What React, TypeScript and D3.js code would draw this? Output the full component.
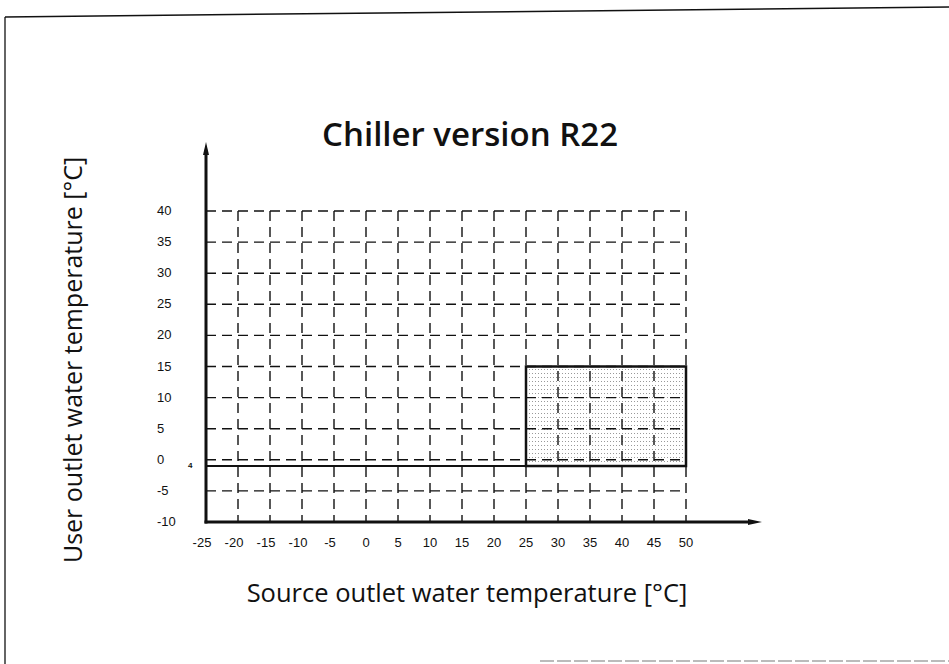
import * as d3 from "d3";

const xTicks = [-25, -20, -15, -10, -5, 0, 5, 10, 15, 20, 25, 30, 35, 40, 45, 50];
const yTicks = [-10, -5, 0, 5, 10, 15, 20, 25, 30, 35, 40];
// operating envelope: source 25..50, user -1..15
const envX = [25, 50];
const envY = [-1, 15];
const limitValue = -1;
const limitLabel = "4";

const W = 949;
const H = 664;

export default function App() {
  const x = d3.scaleLinear().domain([-25, 50]).range([206, 686]);
  const y = d3.scaleLinear().domain([-10, 40]).range([522, 211]);
  const font = "'Open Sans', 'Noto Sans', sans-serif";
  const tickFont = "'Liberation Sans', Arial, sans-serif";

  return (
    <svg width={W} height={H} style={{ position: "absolute", left: 0, top: 0, background: "#fff" }}>
      <defs>
        <pattern id="dots" width="3" height="4" patternUnits="userSpaceOnUse">
          <rect width="3" height="4" fill="#fff" />
          <rect x="1" y="1" width="1" height="1" fill="#999" />
        </pattern>
      </defs>

      {/* page frame */}
      <line x1={5} y1={17} x2={949} y2={7} stroke="#111" strokeWidth={1.5} />
      <line x1={5} y1={17} x2={5} y2={664} stroke="#111" strokeWidth={1.3} />
      <line x1={540} y1={661} x2={949} y2={661} stroke="#bbb" strokeWidth={2} strokeDasharray="14 3" />

      {/* shaded envelope */}
      <rect
        x={x(envX[0])}
        y={y(envY[1])}
        width={x(envX[1]) - x(envX[0])}
        height={y(envY[0]) - y(envY[1])}
        fill="url(#dots)"
      />

      {/* grid */}
      {yTicks.filter(t => t > -10).map(t => (
        <line key={"h" + t} x1={x(-25)} x2={x(50)} y1={y(t)} y2={y(t)}
          stroke="#111" strokeWidth={1.4} strokeDasharray="10 6" />
      ))}
      {xTicks.filter(t => t > -25).map(t => (
        <line key={"v" + t} x1={x(t)} x2={x(t)} y1={y(40)} y2={y(-10)}
          stroke="#111" strokeWidth={1.4} strokeDasharray="10 6" />
      ))}

      {/* limit line and envelope border */}
      <line x1={x(-25)} x2={x(50)} y1={y(limitValue)} y2={y(limitValue)} stroke="#111" strokeWidth={2} />
      <rect
        x={x(envX[0])}
        y={y(envY[1])}
        width={x(envX[1]) - x(envX[0])}
        height={y(envY[0]) - y(envY[1])}
        fill="none"
        stroke="#111"
        strokeWidth={2.5}
      />

      {/* axes with arrows */}
      <line x1={x(-25)} x2={x(-25)} y1={y(-10) + 1.5} y2={152} stroke="#111" strokeWidth={3} />
      <path d={`M${x(-25) - 3},155 L${x(-25)},142 L${x(-25) + 3},155 Z`} fill="#111" />
      <line x1={x(-25) - 1.5} x2={752} y1={y(-10)} y2={y(-10)} stroke="#111" strokeWidth={3} />
      <path d={`M748,${y(-10) - 3} L762,${y(-10)} L748,${y(-10) + 3} Z`} fill="#111" />

      {/* y tick labels */}
      {yTicks.map(t => (
        <text key={"yl" + t} x={157} y={y(t) + 4} fontFamily={tickFont} fontSize={13} fill="#111">
          {t}
        </text>
      ))}
      <text x={188} y={y(limitValue) + 2} fontFamily={tickFont} fontSize={8} fontWeight="bold" fill="#111">
        {limitLabel}
      </text>

      {/* x tick labels */}
      {xTicks.map(t => (
        <text key={"xl" + t} x={x(t) - (t < 0 ? 4 : 0)} y={547} textAnchor="middle"
          fontFamily={tickFont} fontSize={13} fill="#111">
          {t}
        </text>
      ))}

      {/* titles */}
      <text x={618} y={146} textAnchor="end" fontFamily={font} fontWeight={600} fontSize={33} fill="#111">
        Chiller version R22
      </text>
      <text x={467} y={602} textAnchor="middle" fontFamily={font} fontSize={25.5} fill="#111">
        Source outlet water temperature [°C]
      </text>
      <text transform={`translate(82,360) rotate(-90)`} textAnchor="middle" fontFamily={font} fontSize={25} fill="#111">
        User outlet water temperature [°C]
      </text>
    </svg>
  );
}
